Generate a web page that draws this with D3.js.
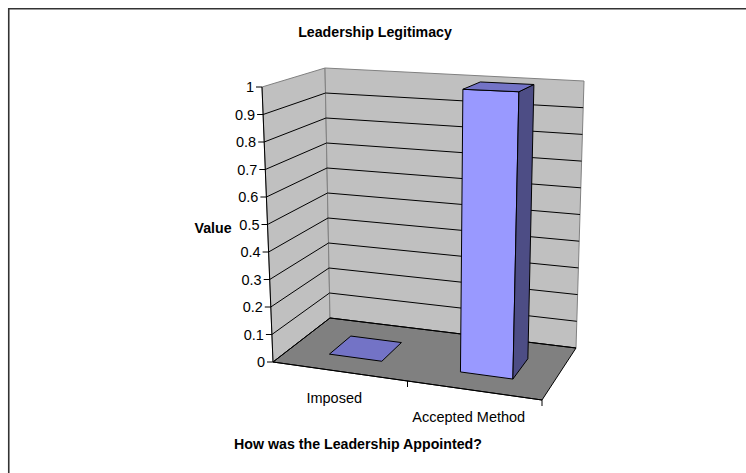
<!DOCTYPE html>
<html>
<head>
<meta charset="utf-8">
<script src="https://cdn.jsdelivr.net/npm/d3@7"></script>
<style>
  body { margin: 0; background: #fff; }
  svg { display: block; }
  text { font-family: "Liberation Sans", Arial, sans-serif; fill: #000; }
</style>
</head>
<body>
<svg id="chart" width="746" height="473"></svg>
<script>
// ---- data ----
const categories = ["Imposed", "Accepted Method"];
const values = [0, 1];
const valueTicks = [0, 0.1, 0.2, 0.3, 0.4, 0.5, 0.6, 0.7, 0.8, 0.9, 1];
const valueTickLabels = ["0", "0.1", "0.2", "0.3", "0.4", "0.5", "0.6", "0.7", "0.8", "0.9", "1"];
const chartTitle = "Leadership Legitimacy";
const valueAxisTitle = "Value";
const categoryAxisTitle = "How was the Leadership Appointed?";

// ---- 3D plot box: screen corners of the unit cube (u across, v up, w into depth) ----
const box = {
  fbl: [273, 362], fbr: [542, 400], ftl: [262, 87], ftr: [551, 99],
  bbl: [330, 318], bbr: [576, 348], btl: [325, 68], btr: [584, 81]
};
const lerp = (a, b, t) => [a[0] + (b[0] - a[0]) * t, a[1] + (b[1] - a[1]) * t];
function project(u, v, w) {
  const f = lerp(lerp(box.fbl, box.fbr, u), lerp(box.ftl, box.ftr, u), v);
  const b = lerp(lerp(box.bbl, box.bbr, u), lerp(box.btl, box.btr, u), v);
  return lerp(f, b, w);
}
const poly = pts => "M" + pts.map(p => p.join(",")).join("L") + "Z";
const line = pts => "M" + pts.map(p => p.join(",")).join("L");

// ---- scales ----
const x = d3.scaleBand().domain(categories).range([0, 1]);
const y = d3.scaleLinear().domain([0, 1]).range([0, 1]);
const barShare = 0.4;          // column width relative to its category band
const depth = [0.3, 0.7];      // column extent along the depth axis

const svg = d3.select("#chart");

// outer frame
svg.append("path")
  .attr("d", "M8.75,480V8.75H760")
  .attr("fill", "none").attr("stroke", "#333").attr("stroke-width", 1.6);

// title
svg.append("text").attr("x", 375).attr("y", 37).attr("text-anchor", "middle")
  .attr("font-size", 14.2).attr("font-weight", "bold").text(chartTitle);

const g = svg.append("g");

// walls and floor
g.append("path").attr("d", poly([project(0,0,0), project(0,1,0), project(0,1,1), project(0,0,1)]))
  .attr("fill", "#C0C0C0").attr("stroke", "#808080").attr("stroke-width", 1);
g.append("path").attr("d", poly([project(0,0,1), project(1,0,1), project(1,1,1), project(0,1,1)]))
  .attr("fill", "#C0C0C0").attr("stroke", "#808080").attr("stroke-width", 1);
g.append("path").attr("d", poly([project(0,0,0), project(1,0,0), project(1,0,1), project(0,0,1)]))
  .attr("fill", "#808080").attr("stroke", "#000").attr("stroke-width", 1);

// gridlines across side wall and back wall
g.selectAll("path.grid").data(valueTicks.filter(t => t < 1)).join("path")
  .attr("class", "grid")
  .attr("d", t => line([project(0, y(t), 0), project(0, y(t), 1), project(1, y(t), 1)]))
  .attr("fill", "none").attr("stroke", "#000").attr("stroke-width", 1);

// value axis
g.append("path").attr("d", line([project(0,0,0), project(0,1,0)]))
  .attr("stroke", "#000").attr("fill", "none");
const vt = g.selectAll("g.vtick").data(valueTicks).join("g").attr("class", "vtick");
vt.append("path")
  .attr("d", t => { const p = project(0, y(t), 0); return line([p, [p[0] - 6, p[1]]]); })
  .attr("stroke", "#000");
vt.append("text")
  .attr("x", t => project(0, y(t), 0)[0] - 8)
  .attr("y", t => project(0, y(t), 0)[1] + 5)
  .attr("text-anchor", "end").attr("font-size", 14.5)
  .text((t, i) => valueTickLabels[i]);

// category axis
g.append("path").attr("d", line([project(0,0,0), project(1,0,0)]))
  .attr("stroke", "#000").attr("fill", "none");
g.selectAll("path.ctick").data(categories).join("path").attr("class", "ctick")
  .attr("d", c => { const p = project(x(c) + x.bandwidth(), 0, 0); return line([p, [p[0], p[1] + 6]]); })
  .attr("stroke", "#000");
g.selectAll("text.clabel").data(categories).join("text").attr("class", "clabel")
  .attr("x", c => project(x(c) + x.bandwidth() / 2, 0, 0)[0] - 6)
  .attr("y", c => project(x(c) + x.bandwidth() / 2, 0, 0)[1] + 31)
  .attr("text-anchor", "middle").attr("font-size", 14.5)
  .text(c => c);

// columns
const bars = categories.map((c, i) => {
  const u0 = x(c) + x.bandwidth() * (1 - barShare) / 2;
  return { u0, u1: u0 + x.bandwidth() * barShare, v: y(values[i]) };
});
const bg = g.selectAll("g.bar").data(bars).join("g").attr("class", "bar");
bg.filter(d => d.v > 0).append("path")
  .attr("d", d => poly([project(d.u0,0,depth[0]), project(d.u1,0,depth[0]), project(d.u1,d.v,depth[0]), project(d.u0,d.v,depth[0])]))
  .attr("fill", "#9999FF").attr("stroke", "#000").attr("stroke-width", 1).attr("stroke-linejoin", "round");
bg.filter(d => d.v > 0).append("path")
  .attr("d", d => poly([project(d.u1,0,depth[0]), project(d.u1,0,depth[1]), project(d.u1,d.v,depth[1]), project(d.u1,d.v,depth[0])]))
  .attr("fill", "#4D4D85").attr("stroke", "#000").attr("stroke-width", 1).attr("stroke-linejoin", "round");
bg.append("path")
  .attr("d", d => poly([project(d.u0,d.v,depth[0]), project(d.u1,d.v,depth[0]), project(d.u1,d.v,depth[1]), project(d.u0,d.v,depth[1])]))
  .attr("fill", "#7373C6").attr("stroke", "#000").attr("stroke-width", 1).attr("stroke-linejoin", "round");

// axis titles
svg.append("text").attr("x", 213).attr("y", 233).attr("text-anchor", "middle")
  .attr("font-size", 14.2).attr("font-weight", "bold").text(valueAxisTitle);
svg.append("text").attr("x", 358).attr("y", 449).attr("text-anchor", "middle")
  .attr("font-size", 14.2).attr("font-weight", "bold").text(categoryAxisTitle);
</script>
</body>
</html>
